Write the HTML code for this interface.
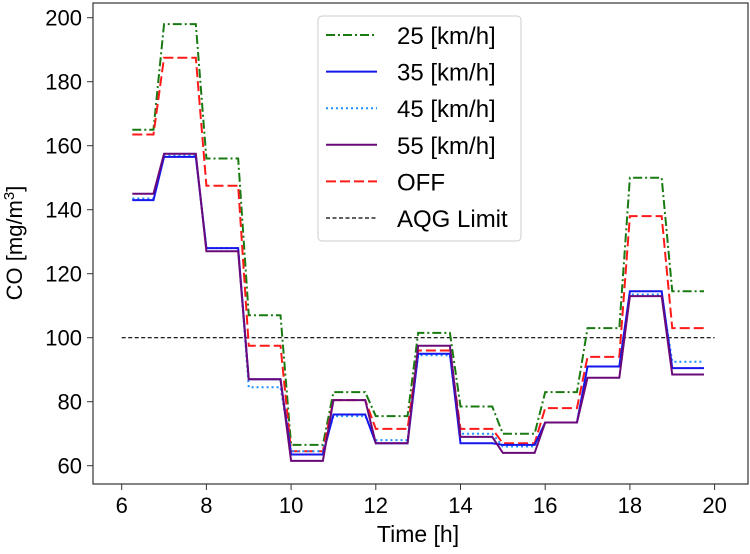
<!DOCTYPE html>
<html><head><meta charset="utf-8"><style>
body{margin:0;background:#fff;}
svg text{font-family:"Liberation Sans",sans-serif;fill:#000;}
</style></head><body>
<svg id="chart" width="750" height="549" xmlns="http://www.w3.org/2000/svg"></svg>
<script>
const hours=[6,7,8,9,10,11,12,13,14,15,16,17,18,19];
const s25=[165,198,156,107,66.5,83,75.5,101.5,78.5,70,83,103,150,114.5];
const s35=[143,156.5,128,87,63.5,76,67,95,67,66.5,73.5,91,114.5,90.5];
const s45=[143.5,157,128,84.5,64.5,75.5,68,94.5,70,66,73.5,91,113.5,92.5];
const s55=[145,157.5,127,87,61.5,80.5,67,97.5,69,64,73.5,87.5,113,88.5];
const sOff=[163.5,187.5,147.5,97.5,64.5,80.5,71.5,96,71.5,67,78,94,138,103];
const aqg=100;
const xTicks=[6,8,10,12,14,16,18,20];
const yTicks=[60,80,100,120,140,160,180,200];
const NS="http://www.w3.org/2000/svg";
const svg=document.getElementById('chart');
const X=v=>121.7+(v-6)*42.35;
const Y=v=>337.7-(v-100)*3.2;
function mk(t,a){const e=document.createElementNS(NS,t);for(const k in a)e.setAttribute(k,a[k]);svg.appendChild(e);return e;}
const frame=mk('rect',{x:93,y:3,width:655,height:481,fill:'none',stroke:'#333','stroke-width':1.2});


xTicks.forEach(t=>{
 const l=mk('line',{x1:X(t),x2:X(t),y1:484,y2:490,stroke:'#333'});
 
 
 const tx=mk('text',{x:X(t),y:513,'text-anchor':'middle','font-size':22});tx.textContent=t;
 
 
});
yTicks.forEach(t=>{
 const l=mk('line',{x1:87,x2:93,y1:Y(t),y2:Y(t),stroke:'#333'});
 
 
 const tx=mk('text',{x:82,y:Y(t)+8,'text-anchor':'end','font-size':22});tx.textContent=t;
 
 
});
const xl=mk('text',{x:418,y:542,'text-anchor':'middle','font-size':23});xl.textContent='Time [h]';


const yl=mk('text',{x:0,y:0,'text-anchor':'middle','font-size':22,transform:'translate(22,243) rotate(-90)'});
yl.innerHTML='CO [mg/m<tspan dy="-8" font-size="15">3</tspan><tspan dy="8">]</tspan>';


const al=mk('line',{x1:X(6),x2:X(20),y1:Y(aqg),y2:Y(aqg),stroke:'#000','stroke-width':1.2,'stroke-dasharray':'4,2.5'});


const series=[
 {d:s25,c:'#1a7a12',da:'9,3,2,3',n:'series-25kmh'},
 {d:sOff,c:'#ff1a1a',da:'10,4',n:'series-off'},
 {d:s45,c:'#1e8fff',da:'2,3',n:'series-45kmh'},
 {d:s35,c:'#1515ee',da:'',n:'series-35kmh'},
 {d:s55,c:'#6a0a7a',da:'',n:'series-55kmh'}];
series.forEach(s=>{
 let p=[];
 hours.forEach((h,i)=>{const a=i==0?h+0.25:h;p.push(X(a)+','+Y(s.d[i]));p.push(X(h+0.75)+','+Y(s.d[i]));});
 const pl=mk('polyline',{points:p.join(' '),fill:'none',stroke:s.c,'stroke-width':2,'stroke-dasharray':s.da});
 
 
});
const lg=mk('rect',{x:318,y:16,width:203,height:225,rx:4,fill:'#fff','fill-opacity':0.85,stroke:'#ccc'});


const leg=[['25 [km/h]','#1a7a12','9,3,2,3'],['35 [km/h]','#1515ee',''],['45 [km/h]','#1e8fff','2,3'],['55 [km/h]','#6a0a7a',''],['OFF','#ff1a1a','10,4'],['AQG Limit','#000','4,2.5']];
leg.forEach((e,i)=>{
 const y=35+i*36.6;
 const l=mk('line',{x1:326,x2:377,y1:y,y2:y,stroke:e[1],'stroke-width':i==5?1.2:2,'stroke-dasharray':e[2]});
 
 
 const t=mk('text',{x:397,y:y+9,'font-size':24});t.textContent=e[0];
 
 
});
</script>
</body></html>
